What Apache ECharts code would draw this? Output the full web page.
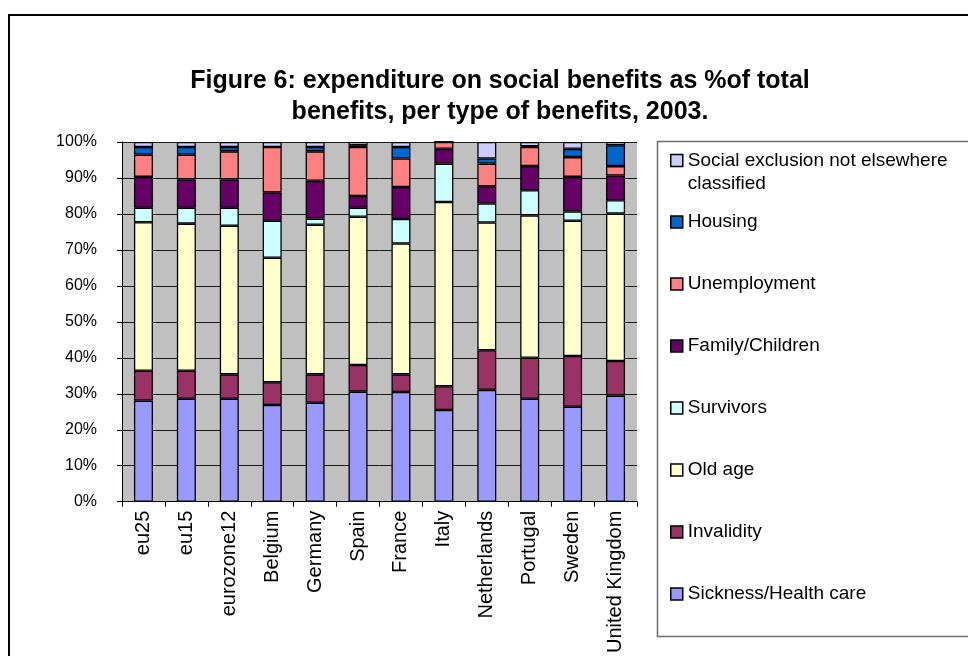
<!DOCTYPE html>
<html>
<head>
<meta charset="utf-8">
<title>Social benefits by type, 2003</title>
<script src="https://cdn.jsdelivr.net/npm/echarts@6/dist/echarts.min.js"></script>
<style>
  html, body { margin: 0; padding: 0; background: #ffffff; }
  #chart { width: 968px; height: 656px; }
</style>
</head>
<body>
<div id="chart"></div>
<script>
// Countries / aggregates on the category axis
var categories = ['eu25', 'eu15', 'eurozone12', 'Belgium', 'Germany', 'Spain',
  'France', 'Italy', 'Netherlands', 'Portugal', 'Sweden', 'United Kingdom'];

// Share of total benefits (%) per function, 2003
var sickness     = [28.1, 28.6, 28.6, 26.9, 27.5, 30.6, 30.5, 25.5, 31.1, 28.6, 26.4, 29.5];
var invalidity   = [ 8.3,  7.8,  6.8,  6.3,  7.9,  7.4,  4.9,  6.6, 11.0, 11.4, 14.1,  9.6];
var oldAge       = [41.3, 40.9, 41.3, 34.6, 41.6, 41.2, 36.4, 51.2, 35.5, 39.6, 37.6, 41.0];
var survivors    = [ 4.0,  4.4,  5.0, 10.3,  1.7,  2.5,  6.8, 10.7,  5.3,  7.0,  2.6,  3.7];
var family       = [ 8.6,  7.9,  7.9,  7.9, 10.5,  3.3,  8.9,  4.1,  4.8,  6.7,  9.6,  6.9];
var unemployment = [ 6.2,  6.9,  7.8, 12.6,  8.2, 13.6,  7.9,  1.9,  6.3,  5.3,  5.5,  2.6];
var housing      = [ 2.1,  2.1,  1.2,  0.0,  1.2,  0.5,  3.2,  0.0,  1.4,  0.2,  2.3,  5.8];
var exclusion    = [ 1.4,  1.4,  1.4,  1.4,  1.4,  0.9,  1.4,  0.0,  4.6,  1.2,  1.9,  0.9];

// Y-axis tick values (percent)
var yTicks = [0, 10, 20, 30, 40, 50, 60, 70, 80, 90, 100];

var seriesDefs = [
  { name: 'Sickness/Health care', data: sickness, color: '#9999ff' },
  { name: 'Invalidity', data: invalidity, color: '#993366' },
  { name: 'Old age', data: oldAge, color: '#ffffcc' },
  { name: 'Survivors', data: survivors, color: '#ccffff' },
  { name: 'Family/Children', data: family, color: '#660066' },
  { name: 'Unemployment', data: unemployment, color: '#ff8080' },
  { name: 'Housing', data: housing, color: '#0066cc' },
  { name: 'Social exclusion not elsewhere classified', data: exclusion, color: '#ccccff' }
];

var FONT = '"Liberation Sans", Arial, sans-serif';

var series = seriesDefs.map(function (s) {
  return {
    name: s.name,
    type: 'bar',
    stack: 'total',
    barWidth: 19,
    data: s.data,
    itemStyle: { color: s.color, borderColor: '#000000', borderWidth: 1.3 },
    emphasis: { disabled: true }
  };
});

// legend lists the top of the stack first
var legendNames = seriesDefs.map(function (s) { return s.name; }).reverse();

var chart = echarts.init(document.getElementById('chart'), null, { renderer: 'canvas' });

chart.setOption({
  animation: false,
  backgroundColor: '#ffffff',
  color: seriesDefs.map(function (s) { return s.color; }),
  title: {
    text: 'Figure 6: expenditure on social benefits as %of total\nbenefits, per type of benefits, 2003.',
    left: 495,
    top: 61,
    textAlign: 'center',
    textStyle: {
      fontFamily: FONT,
      fontSize: 25,
      fontWeight: 'bold',
      color: '#000000',
      lineHeight: 31
    }
  },
  grid: {
    left: 122,
    top: 142,
    width: 515,
    height: 360,
    show: true,
    backgroundColor: '#c0c0c0',
    borderWidth: 0,
    containLabel: false
  },
  legend: [
    {
      // leading blank line keeps the marker level with the first text line
      data: [legendNames[0]],
      orient: 'vertical',
      left: 665,
      top: 121,
      itemWidth: 12,
      itemHeight: 12,
      icon: 'rect',
      selectedMode: false,
      itemStyle: { borderColor: '#000000', borderWidth: 1.5 },
      formatter: function () { return ' \nSocial exclusion not elsewhere\nclassified'; },
      textStyle: {
        fontFamily: FONT,
        fontSize: 19,
        color: '#000000',
        lineHeight: 23
      }
    },
    {
      data: legendNames.slice(1),
      orient: 'vertical',
      left: 665,
      top: 207,
      itemWidth: 12,
      itemHeight: 12,
      itemGap: 42,
      icon: 'rect',
      selectedMode: false,
      itemStyle: { borderColor: '#000000', borderWidth: 1.5 },
      textStyle: {
        fontFamily: FONT,
        fontSize: 19,
        color: '#000000',
        lineHeight: 20
      }
    }
  ],
  xAxis: {
    type: 'category',
    data: categories,
    axisLine: { show: true, lineStyle: { color: '#000000', width: 1 } },
    axisTick: { show: true, length: 5, lineStyle: { color: '#000000' } },
    axisLabel: {
      rotate: 90,
      interval: 0,
      margin: 9,
      fontFamily: FONT,
      fontSize: 20,
      color: '#000000'
    },
    splitLine: { show: false }
  },
  yAxis: {
    type: 'value',
    min: yTicks[0],
    max: yTicks[yTicks.length - 1],
    interval: yTicks[1] - yTicks[0],
    axisLine: { show: true, lineStyle: { color: '#000000', width: 1 } },
    axisTick: { show: true, length: 5, lineStyle: { color: '#000000' } },
    axisLabel: {
      margin: 25,
      fontFamily: FONT,
      fontSize: 16,
      color: '#000000',
      formatter: '{value}%'
    },
    splitLine: { show: true, lineStyle: { color: '#1a1a1a', width: 1 } }
  },
  series: series,
  graphic: [
    {
      type: 'rect',
      silent: true,
      z: -1,
      shape: { x: 9, y: 15, width: 1000, height: 700 },
      style: { fill: null, stroke: '#000000', lineWidth: 2 }
    },
    {
      type: 'rect',
      silent: true,
      z: -1,
      shape: { x: 657.5, y: 141.5, width: 400, height: 495 },
      style: { fill: null, stroke: '#6e6e6e', lineWidth: 1.5 }
    }
  ]
});
</script>
</body>
</html>
